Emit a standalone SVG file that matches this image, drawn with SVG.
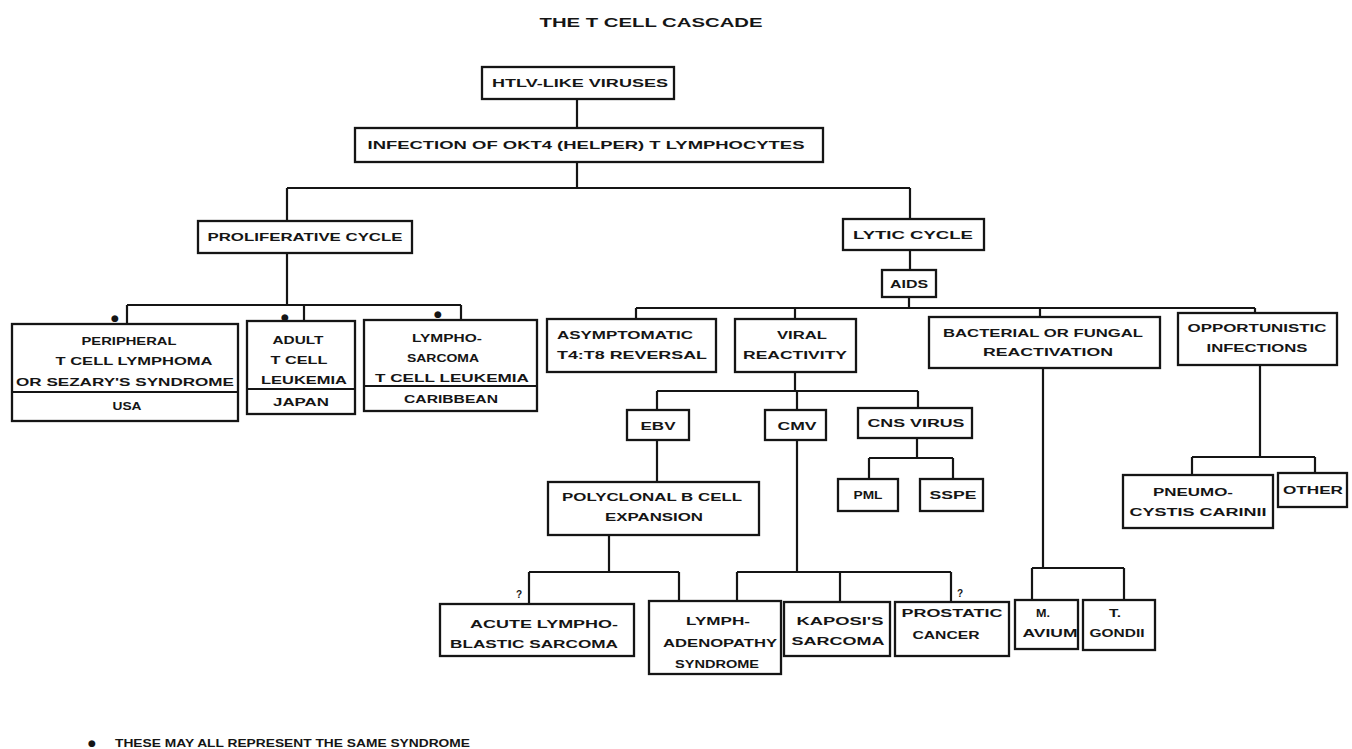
<svg xmlns="http://www.w3.org/2000/svg" width="1352" height="749" viewBox="0 0 1352 749">
<style>
.box{fill:#fff;stroke:#151515;stroke-width:2.3}
.div{stroke:#151515;stroke-width:2}
.t{font-family:"Liberation Sans",Arial,sans-serif;font-weight:bold;font-size:11px;fill:#151515;text-anchor:middle}
.title{font-size:13px}
.c{fill:none;stroke:#151515;stroke-width:2.2}
.m{font-family:"Liberation Sans",Arial,sans-serif;font-weight:bold;font-size:10px;fill:#151515;text-anchor:middle}
.dot{font-family:"DejaVu Sans",sans-serif;font-size:9px;fill:#151515;text-anchor:middle}
</style>
<rect width="1352" height="749" fill="#fff"/>
<text class="t title" x="651" y="27" textLength="223" lengthAdjust="spacingAndGlyphs">THE T CELL CASCADE</text>

<g id="connectors">
<path class="c" d="M577 99V128M577 162V188M287 188H910M287 188V221M910 188V219M910 250V270"/>
<path class="c" d="M287 253V305M127 305H461M127 305V324M304 305V321M461 305V320"/>
<path class="c" d="M909 297V308M636 308H1255M636 308V319M795 308V319M1040 308V317M1255 308V313"/>
<path class="c" d="M795 372V391M657 391H918M657 391V410M797 391V410M918 391V408M657 440V482"/>
<path class="c" d="M917 438V458M869 458H953M869 458V479M953 458V479"/>
<path class="c" d="M609 535V572M529 572H679M529 572V604M679 572V601"/>
<path class="c" d="M797 440V572M737 572H951M737 572V601M840 572V602M951 572V602"/>
<path class="c" d="M1043 368V568M1032 568H1124M1032 568V600M1124 568V600"/>
<path class="c" d="M1260 365V457M1192 457H1315M1192 457V475M1315 457V473"/>
</g>

<g id="markers">
<text class="dot" x="115" y="321">●</text>
<text class="dot" x="285" y="320">●</text>
<text class="dot" x="438" y="317">●</text>
<text class="m" x="519" y="598">?</text>
<text class="m" x="960" y="597">?</text>
</g>

<g id="n-htlv"><rect class="box" x="482" y="67" width="192" height="32"/><text class="t" x="580" y="87" textLength="176" lengthAdjust="spacingAndGlyphs">HTLV-LIKE VIRUSES</text></g>
<g id="n-infection"><rect class="box" x="355" y="128" width="468" height="34"/><text class="t" x="586" y="149" textLength="437" lengthAdjust="spacingAndGlyphs">INFECTION OF OKT4 (HELPER) T LYMPHOCYTES</text></g>
<g id="n-prolif"><rect class="box" x="198" y="221" width="214" height="32"/><text class="t" x="305" y="241" textLength="195" lengthAdjust="spacingAndGlyphs">PROLIFERATIVE CYCLE</text></g>
<g id="n-lytic"><rect class="box" x="843" y="219" width="141" height="31"/><text class="t" x="913" y="239" textLength="120" lengthAdjust="spacingAndGlyphs">LYTIC CYCLE</text></g>
<g id="n-aids"><rect class="box" x="882" y="270" width="54" height="27"/><text class="t" x="909" y="288" textLength="38" lengthAdjust="spacingAndGlyphs">AIDS</text></g>

<g id="n-peripheral"><rect class="box" x="12" y="324" width="226" height="97"/><line class="div" x1="12" y1="392" x2="238" y2="392"/>
<text class="t" x="129" y="345" textLength="95" lengthAdjust="spacingAndGlyphs">PERIPHERAL</text>
<text class="t" x="134" y="365" textLength="157" lengthAdjust="spacingAndGlyphs">T CELL LYMPHOMA</text>
<text class="t" x="125" y="386" textLength="218" lengthAdjust="spacingAndGlyphs">OR SEZARY'S SYNDROME</text>
<text class="t" x="127" y="410" textLength="29" lengthAdjust="spacingAndGlyphs">USA</text></g>

<g id="n-adult"><rect class="box" x="247" y="321" width="108" height="93"/><line class="div" x1="247" y1="389" x2="355" y2="389"/>
<text class="t" x="298" y="344" textLength="51" lengthAdjust="spacingAndGlyphs">ADULT</text>
<text class="t" x="299" y="364" textLength="57" lengthAdjust="spacingAndGlyphs">T CELL</text>
<text class="t" x="304" y="384" textLength="86" lengthAdjust="spacingAndGlyphs">LEUKEMIA</text>
<text class="t" x="301" y="406" textLength="56" lengthAdjust="spacingAndGlyphs">JAPAN</text></g>

<g id="n-lympho"><rect class="box" x="364" y="320" width="173" height="91"/><line class="div" x1="364" y1="386" x2="537" y2="386"/>
<text class="t" x="447" y="342" textLength="70" lengthAdjust="spacingAndGlyphs">LYMPHO-</text>
<text class="t" x="443" y="362" textLength="72" lengthAdjust="spacingAndGlyphs">SARCOMA</text>
<text class="t" x="452" y="382" textLength="154" lengthAdjust="spacingAndGlyphs">T CELL LEUKEMIA</text>
<text class="t" x="451" y="403" textLength="94" lengthAdjust="spacingAndGlyphs">CARIBBEAN</text></g>

<g id="n-asymptomatic"><rect class="box" x="547" y="319" width="169" height="53"/>
<text class="t" x="625" y="339" textLength="136" lengthAdjust="spacingAndGlyphs">ASYMPTOMATIC</text>
<text class="t" x="632" y="359" textLength="150" lengthAdjust="spacingAndGlyphs">T4:T8 REVERSAL</text></g>

<g id="n-viral"><rect class="box" x="735" y="319" width="121" height="53"/>
<text class="t" x="802" y="339" textLength="50" lengthAdjust="spacingAndGlyphs">VIRAL</text>
<text class="t" x="795" y="359" textLength="104" lengthAdjust="spacingAndGlyphs">REACTIVITY</text></g>

<g id="n-bacterial"><rect class="box" x="929" y="317" width="231" height="51"/>
<text class="t" x="1043" y="337" textLength="200" lengthAdjust="spacingAndGlyphs">BACTERIAL OR FUNGAL</text>
<text class="t" x="1048" y="356" textLength="130" lengthAdjust="spacingAndGlyphs">REACTIVATION</text></g>

<g id="n-opportunistic"><rect class="box" x="1178" y="313" width="159" height="52"/>
<text class="t" x="1257" y="332" textLength="139" lengthAdjust="spacingAndGlyphs">OPPORTUNISTIC</text>
<text class="t" x="1257" y="352" textLength="101" lengthAdjust="spacingAndGlyphs">INFECTIONS</text></g>

<g id="n-ebv"><rect class="box" x="627" y="410" width="62" height="30"/><text class="t" x="658" y="430" textLength="35" lengthAdjust="spacingAndGlyphs">EBV</text></g>
<g id="n-cmv"><rect class="box" x="765" y="410" width="61" height="30"/><text class="t" x="797" y="430" textLength="39" lengthAdjust="spacingAndGlyphs">CMV</text></g>
<g id="n-cns"><rect class="box" x="858" y="408" width="114" height="30"/><text class="t" x="916" y="427" textLength="97" lengthAdjust="spacingAndGlyphs">CNS VIRUS</text></g>
<g id="n-pml"><rect class="box" x="838" y="479" width="60" height="32"/><text class="t" x="868" y="499" textLength="29" lengthAdjust="spacingAndGlyphs">PML</text></g>
<g id="n-sspe"><rect class="box" x="920" y="479" width="63" height="32"/><text class="t" x="953" y="499" textLength="47" lengthAdjust="spacingAndGlyphs">SSPE</text></g>

<g id="n-polyclonal"><rect class="box" x="548" y="482" width="211" height="53"/>
<text class="t" x="652" y="501" textLength="180" lengthAdjust="spacingAndGlyphs">POLYCLONAL B CELL</text>
<text class="t" x="654" y="521" textLength="98" lengthAdjust="spacingAndGlyphs">EXPANSION</text></g>

<g id="n-pneumo"><rect class="box" x="1123" y="475" width="150" height="53"/>
<text class="t" x="1193" y="496" textLength="80" lengthAdjust="spacingAndGlyphs">PNEUMO-</text>
<text class="t" x="1198" y="516" textLength="137" lengthAdjust="spacingAndGlyphs">CYSTIS CARINII</text></g>
<g id="n-other"><rect class="box" x="1278" y="473" width="69" height="34"/><text class="t" x="1313" y="494" textLength="60" lengthAdjust="spacingAndGlyphs">OTHER</text></g>

<g id="n-acute"><rect class="box" x="440" y="604" width="194" height="52"/>
<text class="t" x="544" y="628" textLength="148" lengthAdjust="spacingAndGlyphs">ACUTE LYMPHO-</text>
<text class="t" x="534" y="648" textLength="168" lengthAdjust="spacingAndGlyphs">BLASTIC SARCOMA</text></g>

<g id="n-lymph"><rect class="box" x="649" y="601" width="132" height="73"/>
<text class="t" x="718" y="625" textLength="64" lengthAdjust="spacingAndGlyphs">LYMPH-</text>
<text class="t" x="720" y="647" textLength="114" lengthAdjust="spacingAndGlyphs">ADENOPATHY</text>
<text class="t" x="717" y="668" textLength="84" lengthAdjust="spacingAndGlyphs">SYNDROME</text></g>

<g id="n-kaposi"><rect class="box" x="784" y="602" width="106" height="54"/>
<text class="t" x="840" y="625" textLength="87" lengthAdjust="spacingAndGlyphs">KAPOSI'S</text>
<text class="t" x="838" y="645" textLength="93" lengthAdjust="spacingAndGlyphs">SARCOMA</text></g>

<g id="n-prostatic"><rect class="box" x="895" y="602" width="114" height="54"/>
<text class="t" x="952" y="617" textLength="101" lengthAdjust="spacingAndGlyphs">PROSTATIC</text>
<text class="t" x="946" y="639" textLength="67" lengthAdjust="spacingAndGlyphs">CANCER</text></g>

<g id="n-mavium"><rect class="box" x="1015" y="600" width="63" height="49"/>
<text class="t" x="1043" y="617" textLength="14" lengthAdjust="spacingAndGlyphs">M.</text>
<text class="t" x="1050" y="637" textLength="55" lengthAdjust="spacingAndGlyphs">AVIUM</text></g>

<g id="n-tgondii"><rect class="box" x="1083" y="600" width="72" height="50"/>
<text class="t" x="1115" y="617" textLength="12" lengthAdjust="spacingAndGlyphs">T.</text>
<text class="t" x="1117" y="637" textLength="55" lengthAdjust="spacingAndGlyphs">GONDII</text></g>

<g id="footnote">
<text class="dot" x="92" y="746">●</text>
<text class="t" x="115" y="747" style="text-anchor:start;font-size:10px" textLength="355" lengthAdjust="spacingAndGlyphs">THESE MAY ALL REPRESENT THE SAME SYNDROME</text>
</g>
</svg>
